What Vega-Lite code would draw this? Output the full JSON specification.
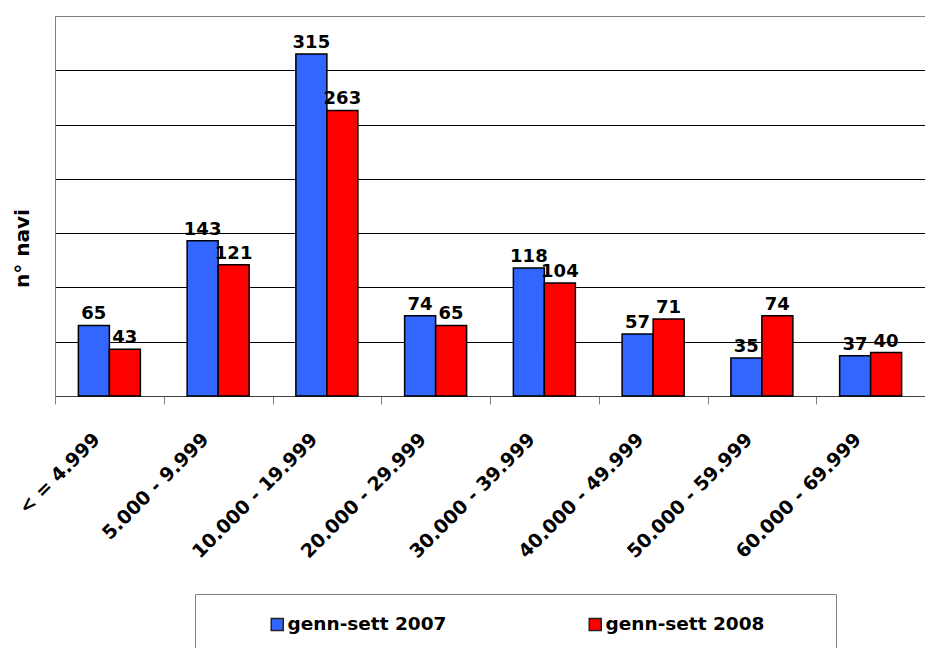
{
  "$schema": "https://vega.github.io/schema/vega-lite/v6.json",
  "width": 870,
  "height": 380,
  "autosize": {"type": "none"},
  "padding": {"left": 55, "top": 16, "right": 0, "bottom": 252},
  "background": "white",
  "config": {"view": {"stroke": "#808080", "strokeWidth": 1}, "font": "DejaVu Sans"},
  "data": {
    "values": [
      {"cls": "< = 4.999", "period": "genn-sett 2007", "n": 65},
      {"cls": "< = 4.999", "period": "genn-sett 2008", "n": 43},
      {"cls": "5.000 - 9.999", "period": "genn-sett 2007", "n": 143},
      {"cls": "5.000 - 9.999", "period": "genn-sett 2008", "n": 121},
      {"cls": "10.000 - 19.999", "period": "genn-sett 2007", "n": 315},
      {"cls": "10.000 - 19.999", "period": "genn-sett 2008", "n": 263},
      {"cls": "20.000 - 29.999", "period": "genn-sett 2007", "n": 74},
      {"cls": "20.000 - 29.999", "period": "genn-sett 2008", "n": 65},
      {"cls": "30.000 - 39.999", "period": "genn-sett 2007", "n": 118},
      {"cls": "30.000 - 39.999", "period": "genn-sett 2008", "n": 104},
      {"cls": "40.000 - 49.999", "period": "genn-sett 2007", "n": 57},
      {"cls": "40.000 - 49.999", "period": "genn-sett 2008", "n": 71},
      {"cls": "50.000 - 59.999", "period": "genn-sett 2007", "n": 35},
      {"cls": "50.000 - 59.999", "period": "genn-sett 2008", "n": 74},
      {"cls": "60.000 - 69.999", "period": "genn-sett 2007", "n": 37},
      {"cls": "60.000 - 69.999", "period": "genn-sett 2008", "n": 40}
    ]
  },
  "encoding": {
    "x": {
      "field": "cls",
      "type": "nominal",
      "sort": null,
      "scale": {"paddingInner": 0, "paddingOuter": 0},
      "axis": {
        "title": null,
        "labelAngle": -45,
        "labelAlign": "right",
        "labelBaseline": "middle",
        "labelFont": "DejaVu Sans",
        "labelFontWeight": "bold",
        "labelFontSize": 19,
        "labelColor": "black",
        "labelPadding": 32,
        "labelOffset": -13,
        "tickBand": "extent",
        "tickSize": 8,
        "tickColor": "#808080",
        "domainColor": "#404040",
        "grid": false
      }
    },
    "xOffset": {
      "field": "period",
      "type": "nominal",
      "scale": {"paddingInner": 0, "paddingOuter": 0.754}
    },
    "y": {
      "field": "n",
      "type": "quantitative",
      "scale": {"domain": [0, 350], "nice": false},
      "axis": {
        "title": "n° navi",
        "titleFont": "DejaVu Sans",
        "titleFontSize": 20,
        "titleFontWeight": "bold",
        "titleColor": "black",
        "titleX": -33,
        "titleY": 232,
        "titleAlign": "center",
        "titleBaseline": "middle",
        "labels": false,
        "ticks": false,
        "domainColor": "#808080",
        "grid": true,
        "gridColor": "black",
        "gridWidth": 1,
        "values": [0, 50, 100, 150, 200, 250, 300]
      }
    }
  },
  "layer": [
    {
      "mark": {"type": "bar", "stroke": "black", "strokeWidth": 1.5},
      "encoding": {
        "color": {
          "field": "period",
          "type": "nominal",
          "scale": {"domain": ["genn-sett 2007", "genn-sett 2008"], "range": ["#3366FF", "#FF0000"]},
          "legend": {
            "orient": "none",
            "legendX": 140,
            "legendY": 578,
            "direction": "horizontal",
            "title": null,
            "strokeColor": "#808080",
            "fillColor": "white",
            "padding": 21,
            "symbolType": "M-1,-1L1,-1L1,1L-1,1Z M36.1,0",
            "symbolSize": 144,
            "symbolStrokeColor": "#222222",
            "symbolStrokeWidth": 1.5,
            "symbolOffset": 52,
            "labelOffset": 1,
            "labelFont": "DejaVu Sans",
            "labelFontSize": 18.5,
            "labelFontWeight": "bold",
            "labelColor": "black",
            "labelLimit": 400,
            "columnPadding": 37
          }
        }
      }
    },
    {
      "mark": {"type": "text", "dy": -6, "baseline": "alphabetic", "font": "DejaVu Sans", "fontWeight": "bold", "fontSize": 18, "color": "black"},
      "encoding": {"text": {"field": "n", "type": "quantitative"}}
    }
  ]
}
